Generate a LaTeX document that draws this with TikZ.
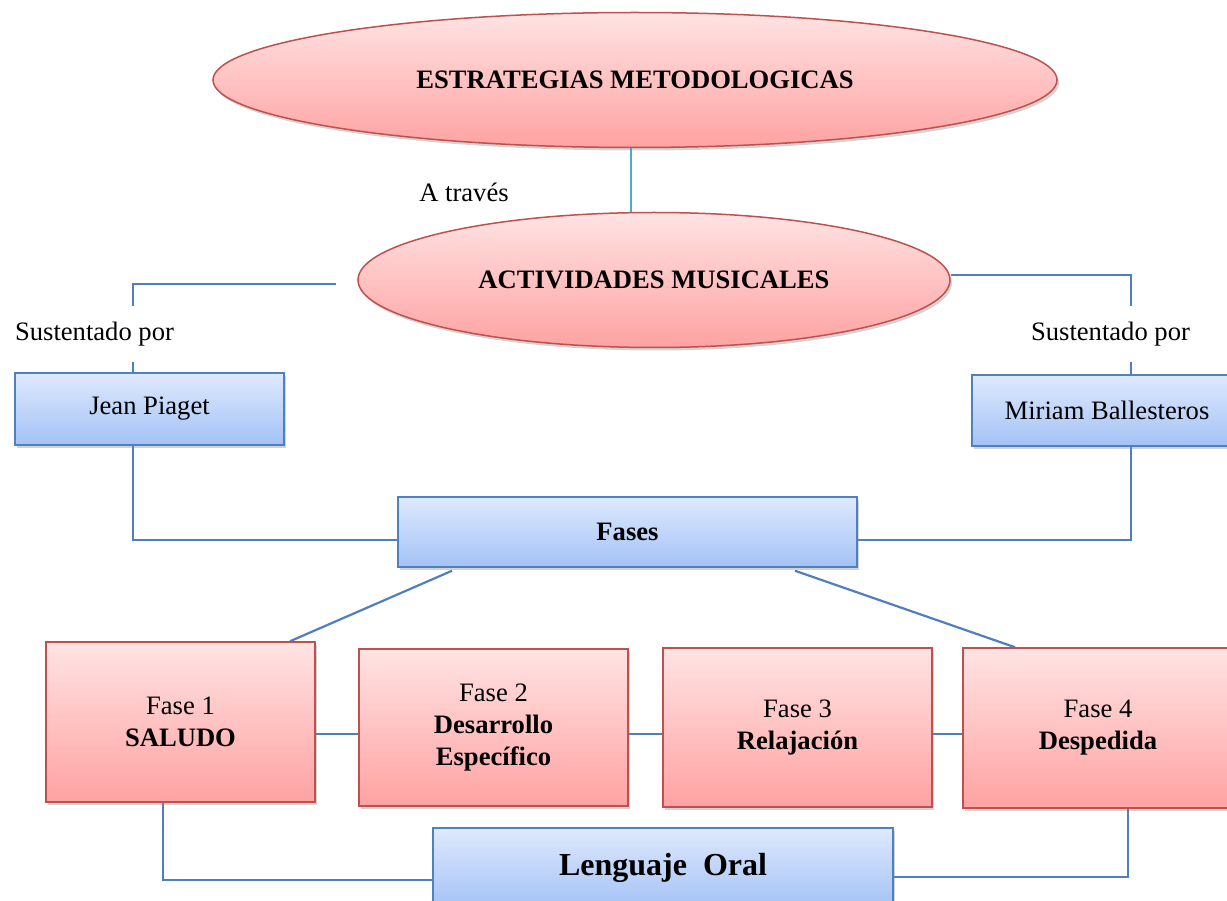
\documentclass[tikz,border=0pt]{standalone}
\usepackage{fontspec}
\setmainfont{Liberation Serif}
\usetikzlibrary{shapes.geometric,shadows}
\definecolor{lineblue}{HTML}{4F7FBF}
\definecolor{tealc}{HTML}{4BACC6}
\definecolor{pinktop}{HTML}{FFE3E3}
\definecolor{pinkbot}{HTML}{FFA2A2}
\definecolor{pinkborder}{HTML}{C0504D}
\definecolor{bluetop}{HTML}{DEE9FD}
\definecolor{bluebot}{HTML}{A4C2F6}
\definecolor{blueborder}{HTML}{4F81BD}
\pgfdeclarelayer{background}
\pgfsetlayers{background,main}
\tikzset{
  shad/.style={drop shadow={opacity=0.35, shadow xshift=2pt, shadow yshift=-3pt}},
  pinkoval/.style={ellipse, draw=pinkborder, line width=1.5pt, top color=pinktop, bottom color=pinkbot, shad, inner sep=0pt, font=\bfseries\fontsize{26.6}{32}\selectfont},
  bluebox/.style={rectangle, draw=blueborder, line width=1.5pt, top color=bluetop, bottom color=bluebot, shad, inner sep=0pt, align=center},
  pinkbox/.style={rectangle, draw=pinkborder, line width=1.5pt, top color=pinktop, bottom color=pinkbot, shad, inner sep=0pt, align=center, minimum width=269pt},
  conn/.style={draw=lineblue, line width=2.2pt},
  tconn/.style={draw=tealc, line width=2.2pt},
  lbl/.style={fill=white, inner xsep=0pt, minimum height=56pt}
}
\begin{document}
\begin{tikzpicture}[x=1pt,y=-1pt,font=\fontsize{26.6}{32}\selectfont]
\useasboundingbox (0,0) rectangle (1227,901);
% ovals
\node[pinkoval, minimum width=844pt, minimum height=135pt] (ema) at (635,80) {ESTRATEGIAS METODOLOGICAS};
\node[pinkoval, minimum width=592pt, minimum height=135pt] (am) at (654,280) {ACTIVIDADES MUSICALES};
\node (atr) at (464,192) {A través};
% authors
\node[bluebox, minimum width=269pt, minimum height=72pt] (jp) at (149.5,409) {Jean Piaget};
\node[bluebox, minimum width=270pt, minimum height=71pt] (mb) at (1107,410.5) {Miriam Ballesteros};
% phases
\node[bluebox, minimum width=459pt, minimum height=70pt, font=\bfseries\fontsize{26.6}{32}\selectfont] (fases) at (627.5,532) {Fases};
\node[pinkbox, minimum height=160pt] (f1) at (180.5,722) {Fase 1\\\textbf{SALUDO}};
\node[pinkbox, minimum height=157pt] (f2) at (493.5,727.5) {Fase 2\\\textbf{Desarrollo}\\\textbf{Específico}};
\node[pinkbox, minimum height=159pt] (f3) at (797.5,727.5) {Fase 3\\\textbf{Relajación}};
\node[pinkbox, minimum width=270pt, minimum height=160pt] (f4) at (1098,728) {Fase 4\\\textbf{Despedida}};
\node[bluebox, minimum width=460pt, minimum height=80pt, font=\bfseries\fontsize{32}{38}\selectfont] (lo) at (663,868) {Lenguaje\ \ Oral};
% connectors
\coordinate (lfree) at (336,284);
\begin{pgfonlayer}{background}
\draw[tconn] ([xshift=-4pt]ema.south) -- ([xshift=-4pt]ema.south |- am.north);
\draw[conn] (lfree) -| ([xshift=-16.5pt]jp.north);
\draw[conn] ([yshift=5pt]am.east) -| ([xshift=24pt]mb.north);
\draw[conn] ([xshift=-16.5pt]jp.south) |- ([yshift=-8pt]fases.west);
\draw[conn] ([xshift=24pt]mb.south) |- ([yshift=-8pt]fases.east);
\draw[conn] ([xshift=-175.5pt,yshift=-3pt]fases.south) -- ([xshift=109.5pt]f1.north);
\draw[conn] ([xshift=167.5pt,yshift=-3pt]fases.south) -- ([xshift=-83pt]f4.north);
\draw[conn] ([yshift=-12pt]f1.east) -- ([yshift=-12pt]f1.east -| f2.west);
\draw[conn] ([yshift=-6.5pt]f2.east) -- ([yshift=-6.5pt]f2.east -| f3.west);
\draw[conn] ([yshift=-6.5pt]f3.east) -- ([yshift=-6.5pt]f3.east -| f4.west);
\draw[conn] ([xshift=-17.5pt]f1.south) |- ([yshift=-12pt]lo.west);
\draw[conn] ([xshift=30pt]f4.south) |- ([yshift=-9pt]lo.east);
\end{pgfonlayer}
\node[lbl] (sl) at (94.5,334) {Sustentado por};
\node[lbl] (sr) at (1110.5,334) {Sustentado por};
\end{tikzpicture}
\end{document}
